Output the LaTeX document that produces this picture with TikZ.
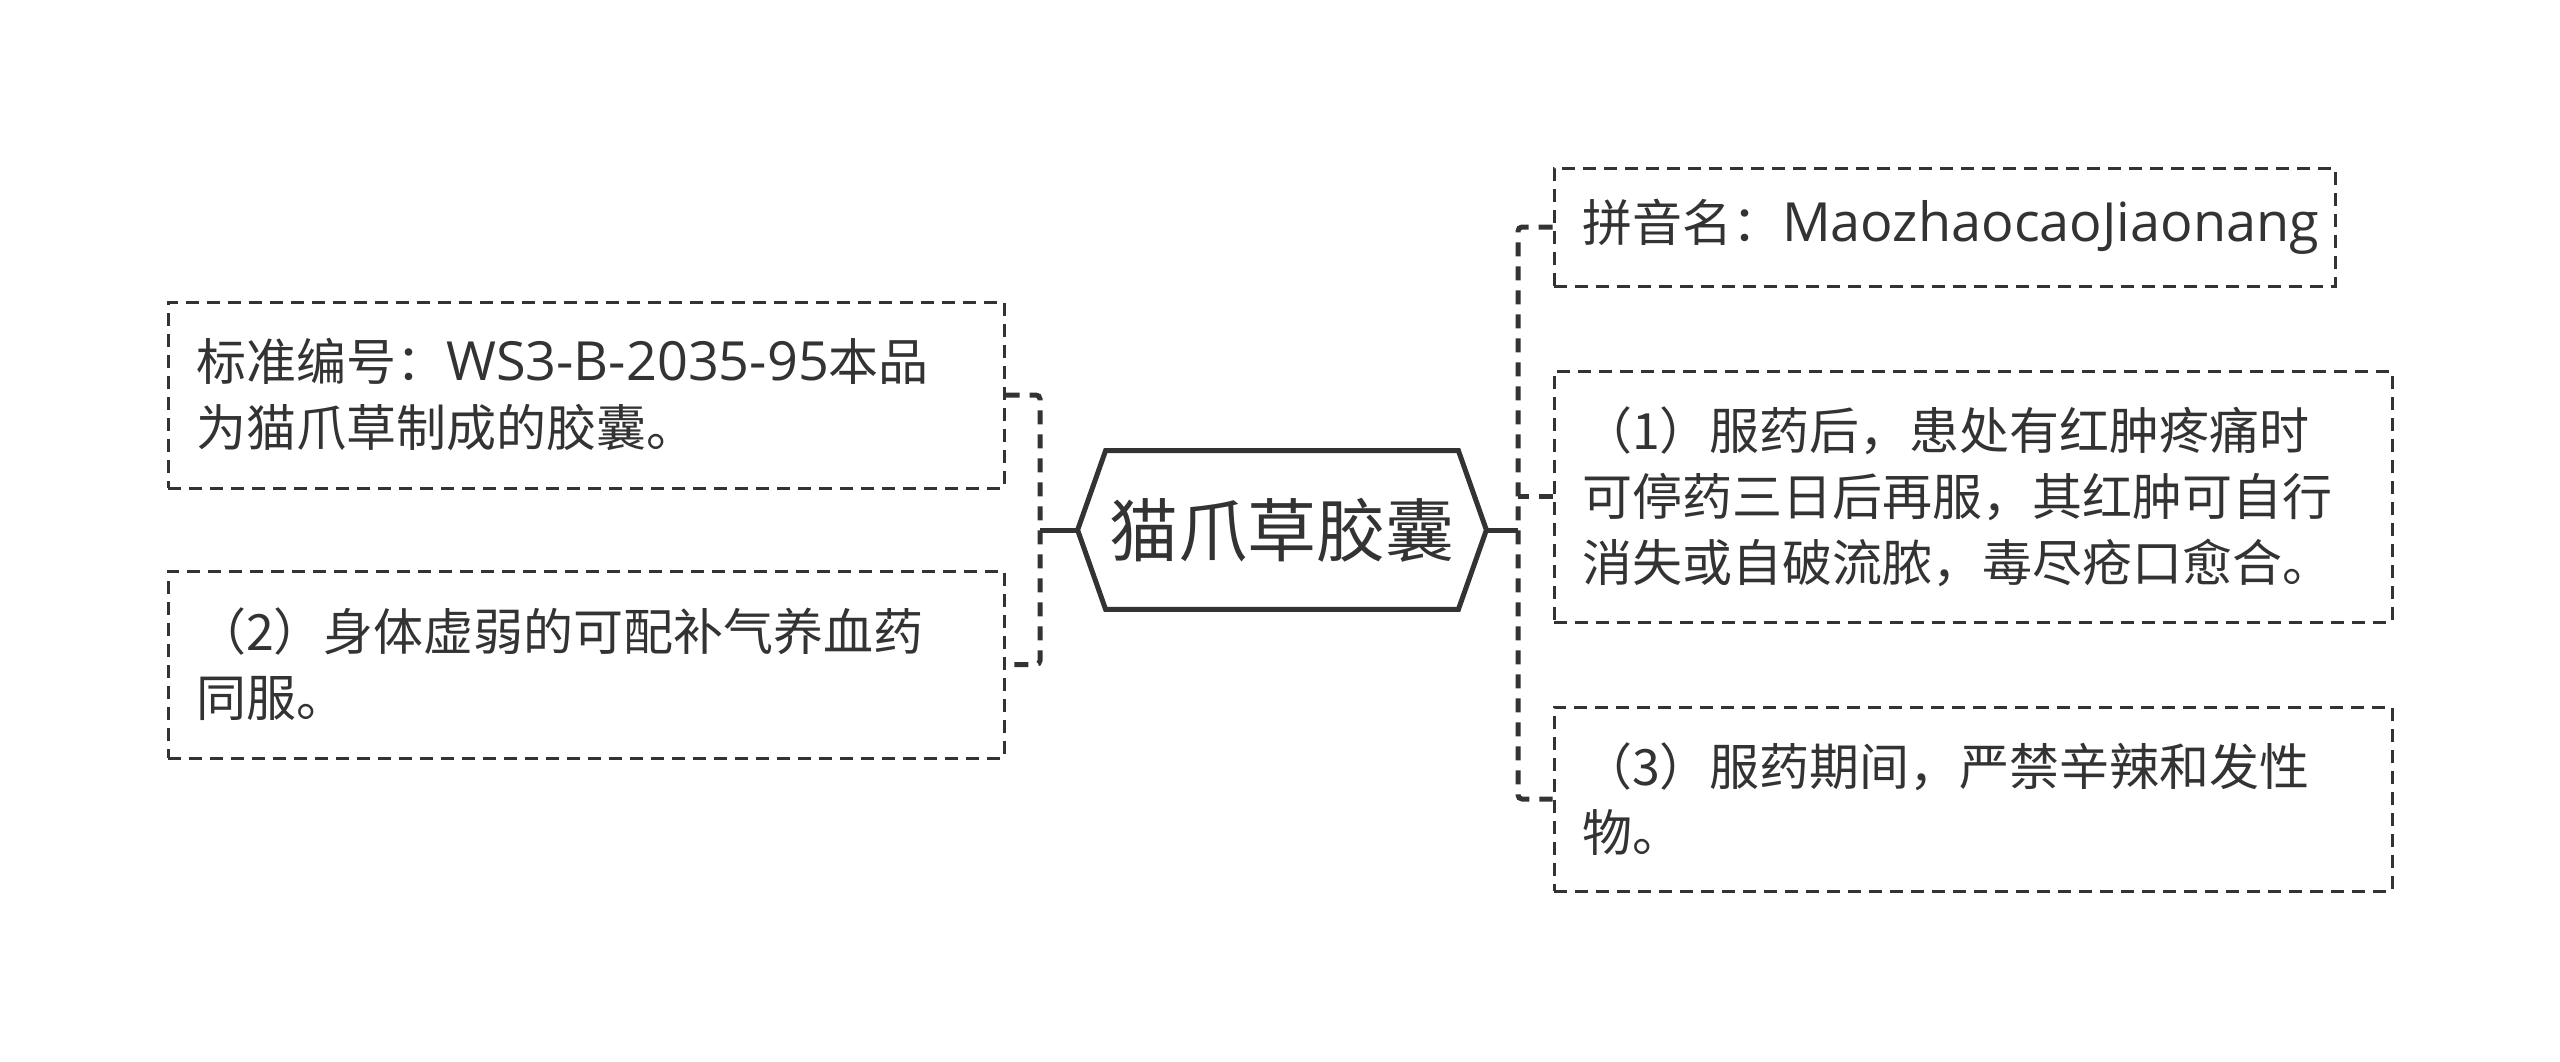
\documentclass[tikz,border=0pt]{standalone}
\usepackage{fontspec}
\setmainfont{Noto Sans CJK SC}
\newfontfamily\latinfont[Scale=1.08]{Open Sans}
\usetikzlibrary{calc}
\definecolor{ink}{HTML}{333333}
\tikzset{
  leaf/.style={draw=ink, line width=1.5pt, dash pattern=on 6.5pt off 4pt,
    text=ink, align=left, inner xsep=14pt, inner ysep=0pt,
    font=\fontsize{25}{33}\selectfont},
  link/.style={draw=ink, line width=2.5pt, dash pattern=on 7pt off 5pt, rounded corners=2pt},
  stem/.style={draw=ink, line width=2.5pt},
}

\begin{document}
\begin{tikzpicture}[x=0.5pt,y=-0.5pt]
\useasboundingbox[fill=white] (0,0) rectangle (2560,1061);
% centre
\node[minimum width=204pt, minimum height=79pt, inner sep=0pt, text=ink,
  font=\fontsize{34.5}{40}\selectfont] (hub) at (1282,530) {猫爪草胶囊};
\draw[stem, line join=miter] (hub.west) -- ([xshift=14pt]hub.north west)
  -- ([xshift=-14pt]hub.north east) -- (hub.east)
  -- ([xshift=-14pt]hub.south east) -- ([xshift=14pt]hub.south west) -- cycle;
% left side
\node[leaf, text width=390pt, minimum height=93pt] (l1) at (586,395)
  {标准编号：{\latinfont WS3-B-2035-95}本品\\为猫爪草制成的胶囊。};
\node[leaf, text width=390pt, minimum height=93.5pt] (l2) at (586,664.5)
  {（2）身体虚弱的可配补气养血药\\同服。};
% right side
\node[leaf, text width=362.5pt, minimum height=59pt] (r1) at (1944.5,227)
  {拼音名：{\latinfont MaozhaocaoJiaonang}};
\node[leaf, text width=391pt, minimum height=125.5pt] (r2) at (1973,496.5)
  {（1）服药后，患处有红肿疼痛时\\可停药三日后再服，其红肿可自行\\消失或自破流脓，毒尽疮口愈合。};
\node[leaf, text width=391pt, minimum height=92pt] (r3) at (1973,799)
  {（3）服药期间，严禁辛辣和发性\\物。};
% connectors
\coordinate (jl) at (1040,530);
\coordinate (jr) at (1518,530);
\draw[stem] (hub.west) -- (jl);
\draw[stem] (hub.east) -- (jr);
\draw[link] (l1.east) -| (jl) |- (l2.east);
\draw[link] (r1.west) -| (jr) |- (r3.west);
\draw[link] (r2.west) -- (r2.west -| jr);
\end{tikzpicture}
\end{document}
